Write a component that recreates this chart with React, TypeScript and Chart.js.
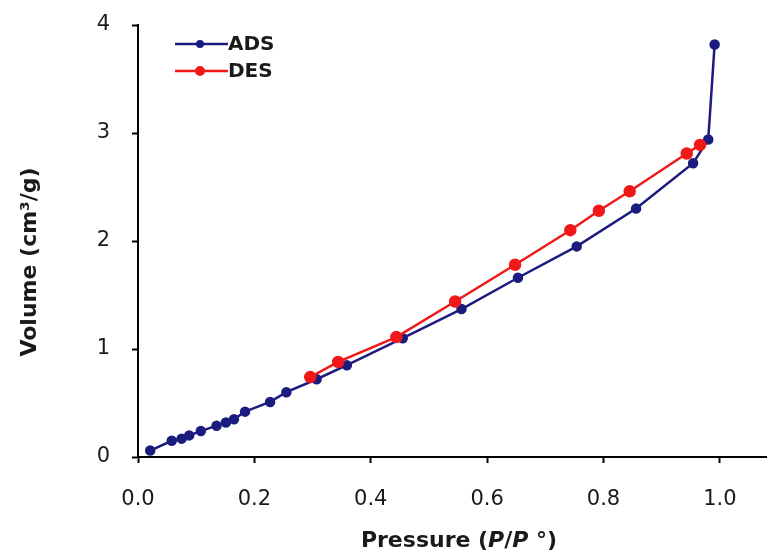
import React, { useEffect, useRef } from "react";
import { Chart, registerables } from "chart.js";

Chart.register(...registerables);

const adsPressure = [0.021, 0.058, 0.075, 0.088, 0.108, 0.135, 0.151, 0.165, 0.184, 0.227, 0.255, 0.307, 0.359, 0.455, 0.556, 0.653, 0.754, 0.856, 0.954, 0.98, 0.991];
const adsVolume = [0.06, 0.15, 0.17, 0.2, 0.24, 0.29, 0.32, 0.35, 0.42, 0.51, 0.6, 0.72, 0.85, 1.1, 1.37, 1.66, 1.95, 2.3, 2.72, 2.94, 3.82];
const desPressure = [0.296, 0.344, 0.444, 0.545, 0.648, 0.743, 0.792, 0.845, 0.943, 0.966];
const desVolume = [0.74, 0.88, 1.11, 1.44, 1.78, 2.1, 2.28, 2.46, 2.81, 2.89];
const xTickValues = [0, 0.2, 0.4, 0.6, 0.8, 1.0];
const yTickValues = [0, 1, 2, 3, 4];
const seriesLabels = ["ADS", "DES"];

const BLUE = "#1c1c7e";
const RED = "#f01818";
const TEXT = "#1a1a1a";
const FONT = "'DejaVu Sans', sans-serif";

const textPlugin = {
  id: "customText",
  afterDraw(chart: any) {
    const ctx = chart.ctx;
    ctx.save();
    ctx.fillStyle = TEXT;
    // x title with italic P
    const size = 22;
    const parts: [string, string][] = [
      ["Pressure (", "bold"],
      ["P", "italic bold"],
      ["/", "bold"],
      ["P", "italic bold"],
      [" \u00B0)", "bold"],
    ];
    let total = 0;
    for (const [t, s] of parts) {
      ctx.font = `${s} ${size}px ${FONT}`;
      total += ctx.measureText(t).width;
    }
    let x = 459 - total / 2;
    ctx.textBaseline = "middle";
    ctx.textAlign = "left";
    for (const [t, s] of parts) {
      ctx.font = `${s} ${size}px ${FONT}`;
      ctx.fillText(t, x, 541);
      x += ctx.measureText(t).width;
    }
    // y title
    ctx.save();
    ctx.translate(30, 262);
    ctx.rotate(-Math.PI / 2);
    ctx.textAlign = "center";
    ctx.font = `bold 22px ${FONT}`;
    ctx.fillText("Volume (cm\u00B3/g)", 0, 0);
    ctx.restore();
    // legend
    const ds = chart.data.datasets;
    const entries = [
      { label: ds[0].label, color: ds[0].borderColor, r: ds[0].pointRadius, y: 44 },
      { label: ds[1].label, color: ds[1].borderColor, r: ds[1].pointRadius, y: 71 },
    ];
    for (const e of entries) {
      ctx.strokeStyle = e.color;
      ctx.lineWidth = 2.5;
      ctx.beginPath();
      ctx.moveTo(175, e.y);
      ctx.lineTo(228, e.y);
      ctx.stroke();
      ctx.fillStyle = e.color;
      ctx.beginPath();
      ctx.arc(200, e.y, e.r, 0, Math.PI * 2);
      ctx.fill();
      ctx.fillStyle = TEXT;
      ctx.font = `bold 20px ${FONT}`;
      ctx.textAlign = "left";
      ctx.textBaseline = "middle";
      ctx.fillText(e.label, 228, e.y + 1);
    }
    ctx.restore();
  },
};

export default function App() {
  const ref = useRef<HTMLCanvasElement>(null);
  useEffect(() => {
    document.body.style.margin = "0";
    const canvas = ref.current!;
    const chart = new Chart(canvas, {
      type: "line",
      data: {
        datasets: [
          {
            label: seriesLabels[0],
            data: adsPressure.map((p, i) => ({ x: p, y: adsVolume[i] })),
            borderColor: BLUE,
            backgroundColor: BLUE,
            pointRadius: 4,
            pointHoverRadius: 4,
            borderWidth: 2.5,
            order: 1,
            clip: false as any,
          },
          {
            label: seriesLabels[1],
            data: desPressure.map((p, i) => ({ x: p, y: desVolume[i] })),
            borderColor: RED,
            backgroundColor: RED,
            pointRadius: 5,
            pointHoverRadius: 5,
            borderWidth: 2.5,
            order: 0,
            clip: false as any,
          },
        ],
      },
      options: {
        responsive: false,
        animation: false,
        layout: { autoPadding: false, padding: { top: 25, left: 0, right: 0, bottom: 0 } },
        plugins: { legend: { display: false }, tooltip: { enabled: false } },
        scales: {
          x: {
            type: "linear",
            min: 0,
            max: 1.081,
            afterBuildTicks: (scale: any) => {
              scale.ticks = xTickValues.map((v) => ({ value: v }));
            },
            afterFit: (scale: any) => {
              scale.height = 99;
              scale.paddingLeft = 0;
              scale.paddingRight = 0;
            },
            grid: { drawOnChartArea: false, drawTicks: true, tickLength: 6, tickColor: "#000", tickWidth: 2 },
            border: { color: "#000", width: 2 },
            ticks: {
              padding: 24,
              color: TEXT,
              font: { family: FONT, size: 21 },
              maxRotation: 0,
              callback: (v: any) => Number(v).toFixed(1),
            },
          },
          y: {
            type: "linear",
            min: 0,
            max: 4,
            afterBuildTicks: (scale: any) => {
              scale.ticks = yTickValues.map((v) => ({ value: v }));
            },
            afterFit: (scale: any) => {
              scale.width = 138;
              scale.paddingTop = 0;
              scale.paddingBottom = 0;
            },
            grid: { drawOnChartArea: false, drawTicks: true, tickLength: 6, tickColor: "#000", tickWidth: 2 },
            border: { color: "#000", width: 2 },
            ticks: {
              padding: 22,
              color: TEXT,
              font: { family: FONT, size: 21 },
              callback: (v: any) => String(v),
            },
          },
        },
      },
      plugins: [textPlugin],
    } as any);
    return () => chart.destroy();
  }, []);
  return (
    <div style={{ width: 767, height: 556, background: "#fff" }}>
      <canvas ref={ref} width={767} height={556} style={{ display: "block" }} />
    </div>
  );
}
